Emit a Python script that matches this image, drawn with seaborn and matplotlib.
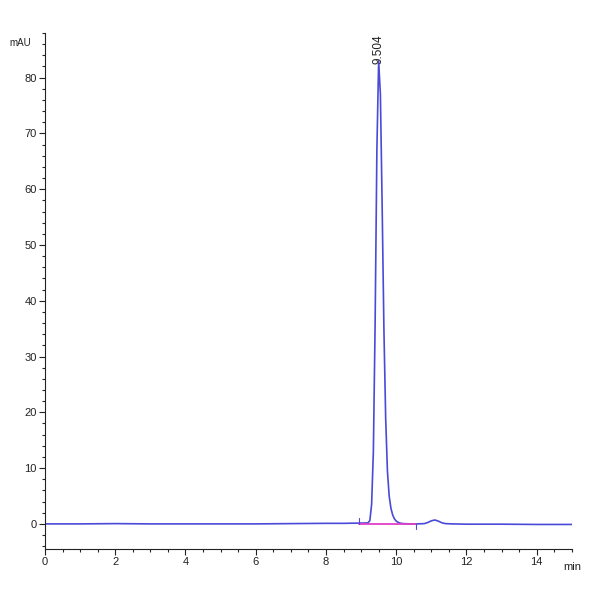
import matplotlib
matplotlib.use("Agg")
import matplotlib.pyplot as plt
import seaborn as sns
import pandas as pd
from matplotlib.ticker import MultipleLocator

# Chromatogram trace (retention time in min, absorbance in mAU)
time_min = [0.0, 1.0, 2.0, 3.0, 4.0, 5.0, 6.0, 7.0, 8.0, 8.5, 9.0, 9.1, 9.2,
            9.25, 9.30, 9.35, 9.40, 9.45, 9.50, 9.55, 9.60, 9.65, 9.70, 9.75,
            9.80, 9.85, 9.90, 9.95, 10.0, 10.05, 10.1, 10.2, 10.4, 10.6, 10.8,
            10.9, 11.0, 11.1, 11.2, 11.3, 11.4, 11.6, 12.0, 13.0, 14.0, 15.0]
absorb_mau = [0.0, 0.0, 0.05, 0.0, 0.0, 0.0, 0.0, 0.05, 0.1, 0.1, 0.15, 0.15, 0.2,
              0.6, 3.5, 13.0, 36.0, 67.0, 83.0, 77.0, 57.0, 35.0, 19.0, 9.5,
              5.0, 2.8, 1.6, 0.9, 0.5, 0.3, 0.15, 0.05, 0.0, 0.0, 0.05,
              0.25, 0.55, 0.7, 0.5, 0.2, 0.05, 0.0, -0.05, -0.05, -0.1, -0.1]

# Integration baseline of the main peak
baseline_t = [8.94, 10.57]
baseline_y = [0.0, 0.0]

peak_rt = 9.504
peak_height = 83.0

x_ticks = [0, 2, 4, 6, 8, 10, 12, 14]
y_ticks = [0, 10, 20, 30, 40, 50, 60, 70, 80]

sns.set_theme(style="ticks")
plt.rcParams['font.family'] = ['Liberation Sans', 'DejaVu Sans']

df = pd.DataFrame({"t": time_min, "y": absorb_mau})

fig = plt.figure(figsize=(6, 6), dpi=100)
ax = fig.add_axes([0.075, 0.085, 0.878, 0.86])

sns.lineplot(data=df, x="t", y="y", ax=ax, color="#4a4ad8", linewidth=1.2,
             estimator=None, sort=False)
sns.lineplot(x=baseline_t, y=baseline_y, ax=ax, color="#e040c8", linewidth=1.3,
             estimator=None)
# baseline start/end markers
ax.plot([baseline_t[0], baseline_t[0]], [0, 1.0], color="#4a4ad8", linewidth=0.8)
ax.plot([baseline_t[1], baseline_t[1]], [0, -1.0], color="#4a4ad8", linewidth=0.8)

ax.text(peak_rt, peak_height - 0.6, f"{peak_rt:.3f}", rotation=90,
        ha="center", va="bottom", fontsize=8.5, color="#202020")

ax.set_xlim(0, 15)
ax.set_ylim(-4.5, 88)
ax.set_xticks(x_ticks)
ax.set_yticks(y_ticks)
ax.xaxis.set_minor_locator(MultipleLocator(0.5))
ax.yaxis.set_minor_locator(MultipleLocator(2))
ax.tick_params(axis="both", which="major", length=4, width=0.8, labelsize=8,
               colors="#222222", pad=2)
ax.tick_params(axis="both", which="minor", length=2.5, width=0.8)
ax.set_xlabel("")
ax.set_ylabel("")
for s in ["top", "right"]:
    ax.spines[s].set_visible(False)
for s in ["left", "bottom"]:
    ax.spines[s].set_linewidth(0.8)
    ax.spines[s].set_color("#222222")

fig.text(0.052, 0.928, "mAU", fontsize=7, ha="right", va="center", color="#222222")
ax.text(14.75, -7.8, "min", fontsize=8, ha="left", va="center", color="#222222")

fig.savefig("out.png", dpi=100)
